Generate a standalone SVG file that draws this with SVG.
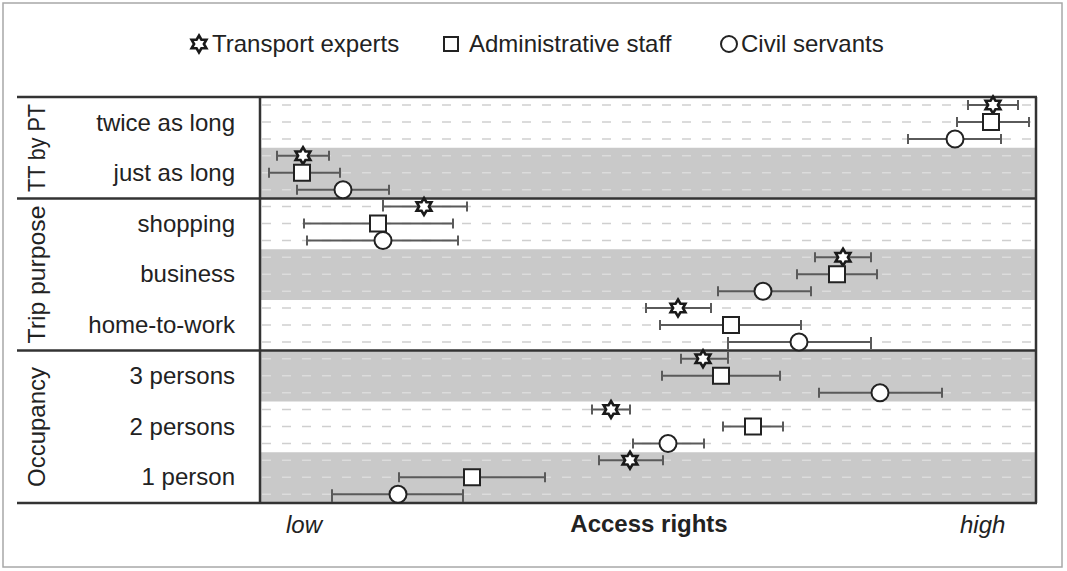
<svg xmlns="http://www.w3.org/2000/svg" xmlns:xlink="http://www.w3.org/1999/xlink" width="1067" height="571" viewBox="0 0 1067 571">
<style>
text{font-family:"Liberation Sans",Arial,sans-serif;fill:#222;font-size:24px}
.lab{text-anchor:end}
.grp{text-anchor:middle}
.frame{stroke:#333;stroke-width:2.5;fill:none}
.band{fill:#c9c9c9}
.dw{stroke:#cfcfcf;stroke-width:1.5;stroke-dasharray:9 11}
.dg{stroke:#dcdcdc;stroke-width:1.5;stroke-dasharray:9 11}
.eb{stroke:#5a5a5a;stroke-width:2;fill:none}
.mk{fill:#fff;stroke:#222;stroke-width:2}
.st{fill:#fff;stroke:#1a1a1a;stroke-width:2.6;stroke-linejoin:miter}
</style>
<defs>
<polygon id="star" points="0,-8.5 2.45,-4.24 7.36,-4.25 4.9,0 7.36,4.25 2.45,4.24 0,8.5 -2.45,4.24 -7.36,4.25 -4.9,0 -7.36,-4.25 -2.45,-4.24"/>
<rect id="sq" x="-8" y="-8" width="16" height="16"/>
<circle id="ci" r="8.5"/>
</defs>
<rect x="3" y="3" width="1059" height="564" fill="#fff" stroke="#a8a8a8" stroke-width="1.5"/>

<g id="legend">
<use href="#star" class="st" x="199" y="44"/>
<text x="212" y="52">Transport experts</text>
<rect x="444" y="37" width="14" height="14" class="mk"/>
<text x="469" y="52">Administrative staff</text>
<circle cx="729" cy="44" r="8" class="mk"/>
<text x="741" y="52">Civil servants</text>
</g>

<g id="bands">
<rect class="band" x="261" y="147.75" width="775" height="50.75"/>
<rect class="band" x="261" y="249.25" width="775" height="50.75"/>
<rect class="band" x="261" y="350.75" width="775" height="50.75"/>
<rect class="band" x="261" y="452.25" width="775" height="50.75"/>
</g>

<g id="gridlines">
<line class="dw" x1="262" x2="1035" y1="105" y2="105"/>
<line class="dw" x1="262" x2="1035" y1="122" y2="122"/>
<line class="dw" x1="262" x2="1035" y1="139" y2="139"/>
<line class="dg" x1="262" x2="1035" y1="155.75" y2="155.75"/>
<line class="dg" x1="262" x2="1035" y1="172.75" y2="172.75"/>
<line class="dg" x1="262" x2="1035" y1="189.75" y2="189.75"/>
<line class="dw" x1="262" x2="1035" y1="206.5" y2="206.5"/>
<line class="dw" x1="262" x2="1035" y1="223.5" y2="223.5"/>
<line class="dw" x1="262" x2="1035" y1="240.5" y2="240.5"/>
<line class="dg" x1="262" x2="1035" y1="257.25" y2="257.25"/>
<line class="dg" x1="262" x2="1035" y1="274.25" y2="274.25"/>
<line class="dg" x1="262" x2="1035" y1="291.25" y2="291.25"/>
<line class="dw" x1="262" x2="1035" y1="308" y2="308"/>
<line class="dw" x1="262" x2="1035" y1="325" y2="325"/>
<line class="dw" x1="262" x2="1035" y1="342" y2="342"/>
<line class="dg" x1="262" x2="1035" y1="358.75" y2="358.75"/>
<line class="dg" x1="262" x2="1035" y1="375.75" y2="375.75"/>
<line class="dg" x1="262" x2="1035" y1="392.75" y2="392.75"/>
<line class="dw" x1="262" x2="1035" y1="409.5" y2="409.5"/>
<line class="dw" x1="262" x2="1035" y1="426.5" y2="426.5"/>
<line class="dw" x1="262" x2="1035" y1="443.5" y2="443.5"/>
<line class="dg" x1="262" x2="1035" y1="460.25" y2="460.25"/>
<line class="dg" x1="262" x2="1035" y1="477.25" y2="477.25"/>
<line class="dg" x1="262" x2="1035" y1="494.25" y2="494.25"/>
</g>

<g id="frame">
<line class="frame" x1="17" x2="1037" y1="97" y2="97"/>
<line class="frame" x1="17" x2="1037" y1="198.5" y2="198.5"/>
<line class="frame" x1="17" x2="1037" y1="350.5" y2="350.5"/>
<line class="frame" x1="17" x2="1037" y1="503" y2="503"/>
<line class="frame" x1="260" x2="260" y1="97" y2="503"/>
<line class="frame" x1="1036" x2="1036" y1="97" y2="503"/>
</g>

<g id="group-labels">
<text class="grp" transform="translate(45 148) rotate(-90)" textLength="88" lengthAdjust="spacingAndGlyphs">TT by PT</text>
<text class="grp" transform="translate(45 274.5) rotate(-90)" textLength="138" lengthAdjust="spacingAndGlyphs">Trip purpose</text>
<text class="grp" transform="translate(45 427) rotate(-90)">Occupancy</text>
</g>

<g id="row-labels">
<text class="lab" x="235" y="131">twice as long</text>
<text class="lab" x="235" y="181">just as long</text>
<text class="lab" x="235" y="232">shopping</text>
<text class="lab" x="235" y="282">business</text>
<text class="lab" x="235" y="333">home-to-work</text>
<text class="lab" x="235" y="384">3 persons</text>
<text class="lab" x="235" y="435">2 persons</text>
<text class="lab" x="235" y="485">1 person</text>
</g>

<g id="connectors">
<path class="eb" d="M968 105H1018M968 100V110M1018 100V110"/>
<path class="eb" d="M957 122H1029M957 117V127M1029 117V127"/>
<path class="eb" d="M908 139H1001M908 134V144M1001 134V144"/>
<path class="eb" d="M277 155.75H329M277 150.75V160.75M329 150.75V160.75"/>
<path class="eb" d="M269 172.75H340M269 167.75V177.75M340 167.75V177.75"/>
<path class="eb" d="M297 189.75H389M297 184.75V194.75M389 184.75V194.75"/>
<path class="eb" d="M383 206.5H467M383 199.5V211.5M467 201.5V211.5"/>
<path class="eb" d="M304 223.5H453M304 218.5V228.5M453 218.5V228.5"/>
<path class="eb" d="M307 240.5H458M307 235.5V245.5M458 235.5V245.5"/>
<path class="eb" d="M815 257.25H871M815 252.25V262.25M871 252.25V262.25"/>
<path class="eb" d="M797 274.25H877M797 269.25V279.25M877 269.25V279.25"/>
<path class="eb" d="M718 291.25H811M718 286.25V296.25M811 286.25V296.25"/>
<path class="eb" d="M646 308H711M646 303V313M711 303V313"/>
<path class="eb" d="M660 325H801M660 320V330M801 320V330"/>
<path class="eb" d="M728 342H871M728 337V349M871 337V349"/>
<path class="eb" d="M681 358.75H728M681 353.75V363.75M728 352V363.75"/>
<path class="eb" d="M662 375.75H780M662 370.75V380.75M780 370.75V380.75"/>
<path class="eb" d="M819 392.75H942M819 387.75V397.75M942 387.75V397.75"/>
<path class="eb" d="M592 409.5H630M592 404.5V414.5M630 404.5V414.5"/>
<path class="eb" d="M723 426.5H783M723 421.5V431.5M783 421.5V431.5"/>
<path class="eb" d="M633 443.5H704M633 438.5V448.5M704 438.5V448.5"/>
<path class="eb" d="M599 460.25H663M599 455.25V465.25M663 455.25V465.25"/>
<path class="eb" d="M399 477.25H545M399 472.25V482.25M545 472.25V482.25"/>
<path class="eb" d="M332 494.25H463M332 489.25V502M463 489.25V502"/>
</g>

<g id="row-twice-as-long">
<use href="#star" class="st" x="993" y="105"/>
<use href="#sq" class="mk" x="991" y="122"/>
<use href="#ci" class="mk" x="955" y="139"/>
</g>
<g id="row-just-as-long">
<use href="#star" class="st" x="303" y="155.75"/>
<use href="#sq" class="mk" x="302" y="172.75"/>
<use href="#ci" class="mk" x="343" y="189.75"/>
</g>
<g id="row-shopping">
<use href="#star" class="st" x="424" y="206.5"/>
<use href="#sq" class="mk" x="378" y="223.5"/>
<use href="#ci" class="mk" x="383" y="240.5"/>
</g>
<g id="row-business">
<use href="#star" class="st" x="843" y="257.25"/>
<use href="#sq" class="mk" x="837" y="274.25"/>
<use href="#ci" class="mk" x="763" y="291.25"/>
</g>
<g id="row-home-to-work">
<use href="#star" class="st" x="678" y="308"/>
<use href="#sq" class="mk" x="731" y="325"/>
<use href="#ci" class="mk" x="799" y="342"/>
</g>
<g id="row-3-persons">
<use href="#star" class="st" x="703" y="358.75"/>
<use href="#sq" class="mk" x="721" y="375.75"/>
<use href="#ci" class="mk" x="880" y="392.75"/>
</g>
<g id="row-2-persons">
<use href="#star" class="st" x="611" y="409.5"/>
<use href="#sq" class="mk" x="753" y="426.5"/>
<use href="#ci" class="mk" x="668" y="443.5"/>
</g>
<g id="row-1-person">
<use href="#star" class="st" x="630" y="460.25"/>
<use href="#sq" class="mk" x="472" y="477.25"/>
<use href="#ci" class="mk" x="398" y="494.25"/>
</g>

<g id="axis-labels">
<text x="286" y="533" font-style="italic">low</text>
<text x="649" y="532" text-anchor="middle" font-weight="bold" font-size="22">Access rights</text>
<text x="960" y="533" font-style="italic">high</text>
</g>
</svg>
